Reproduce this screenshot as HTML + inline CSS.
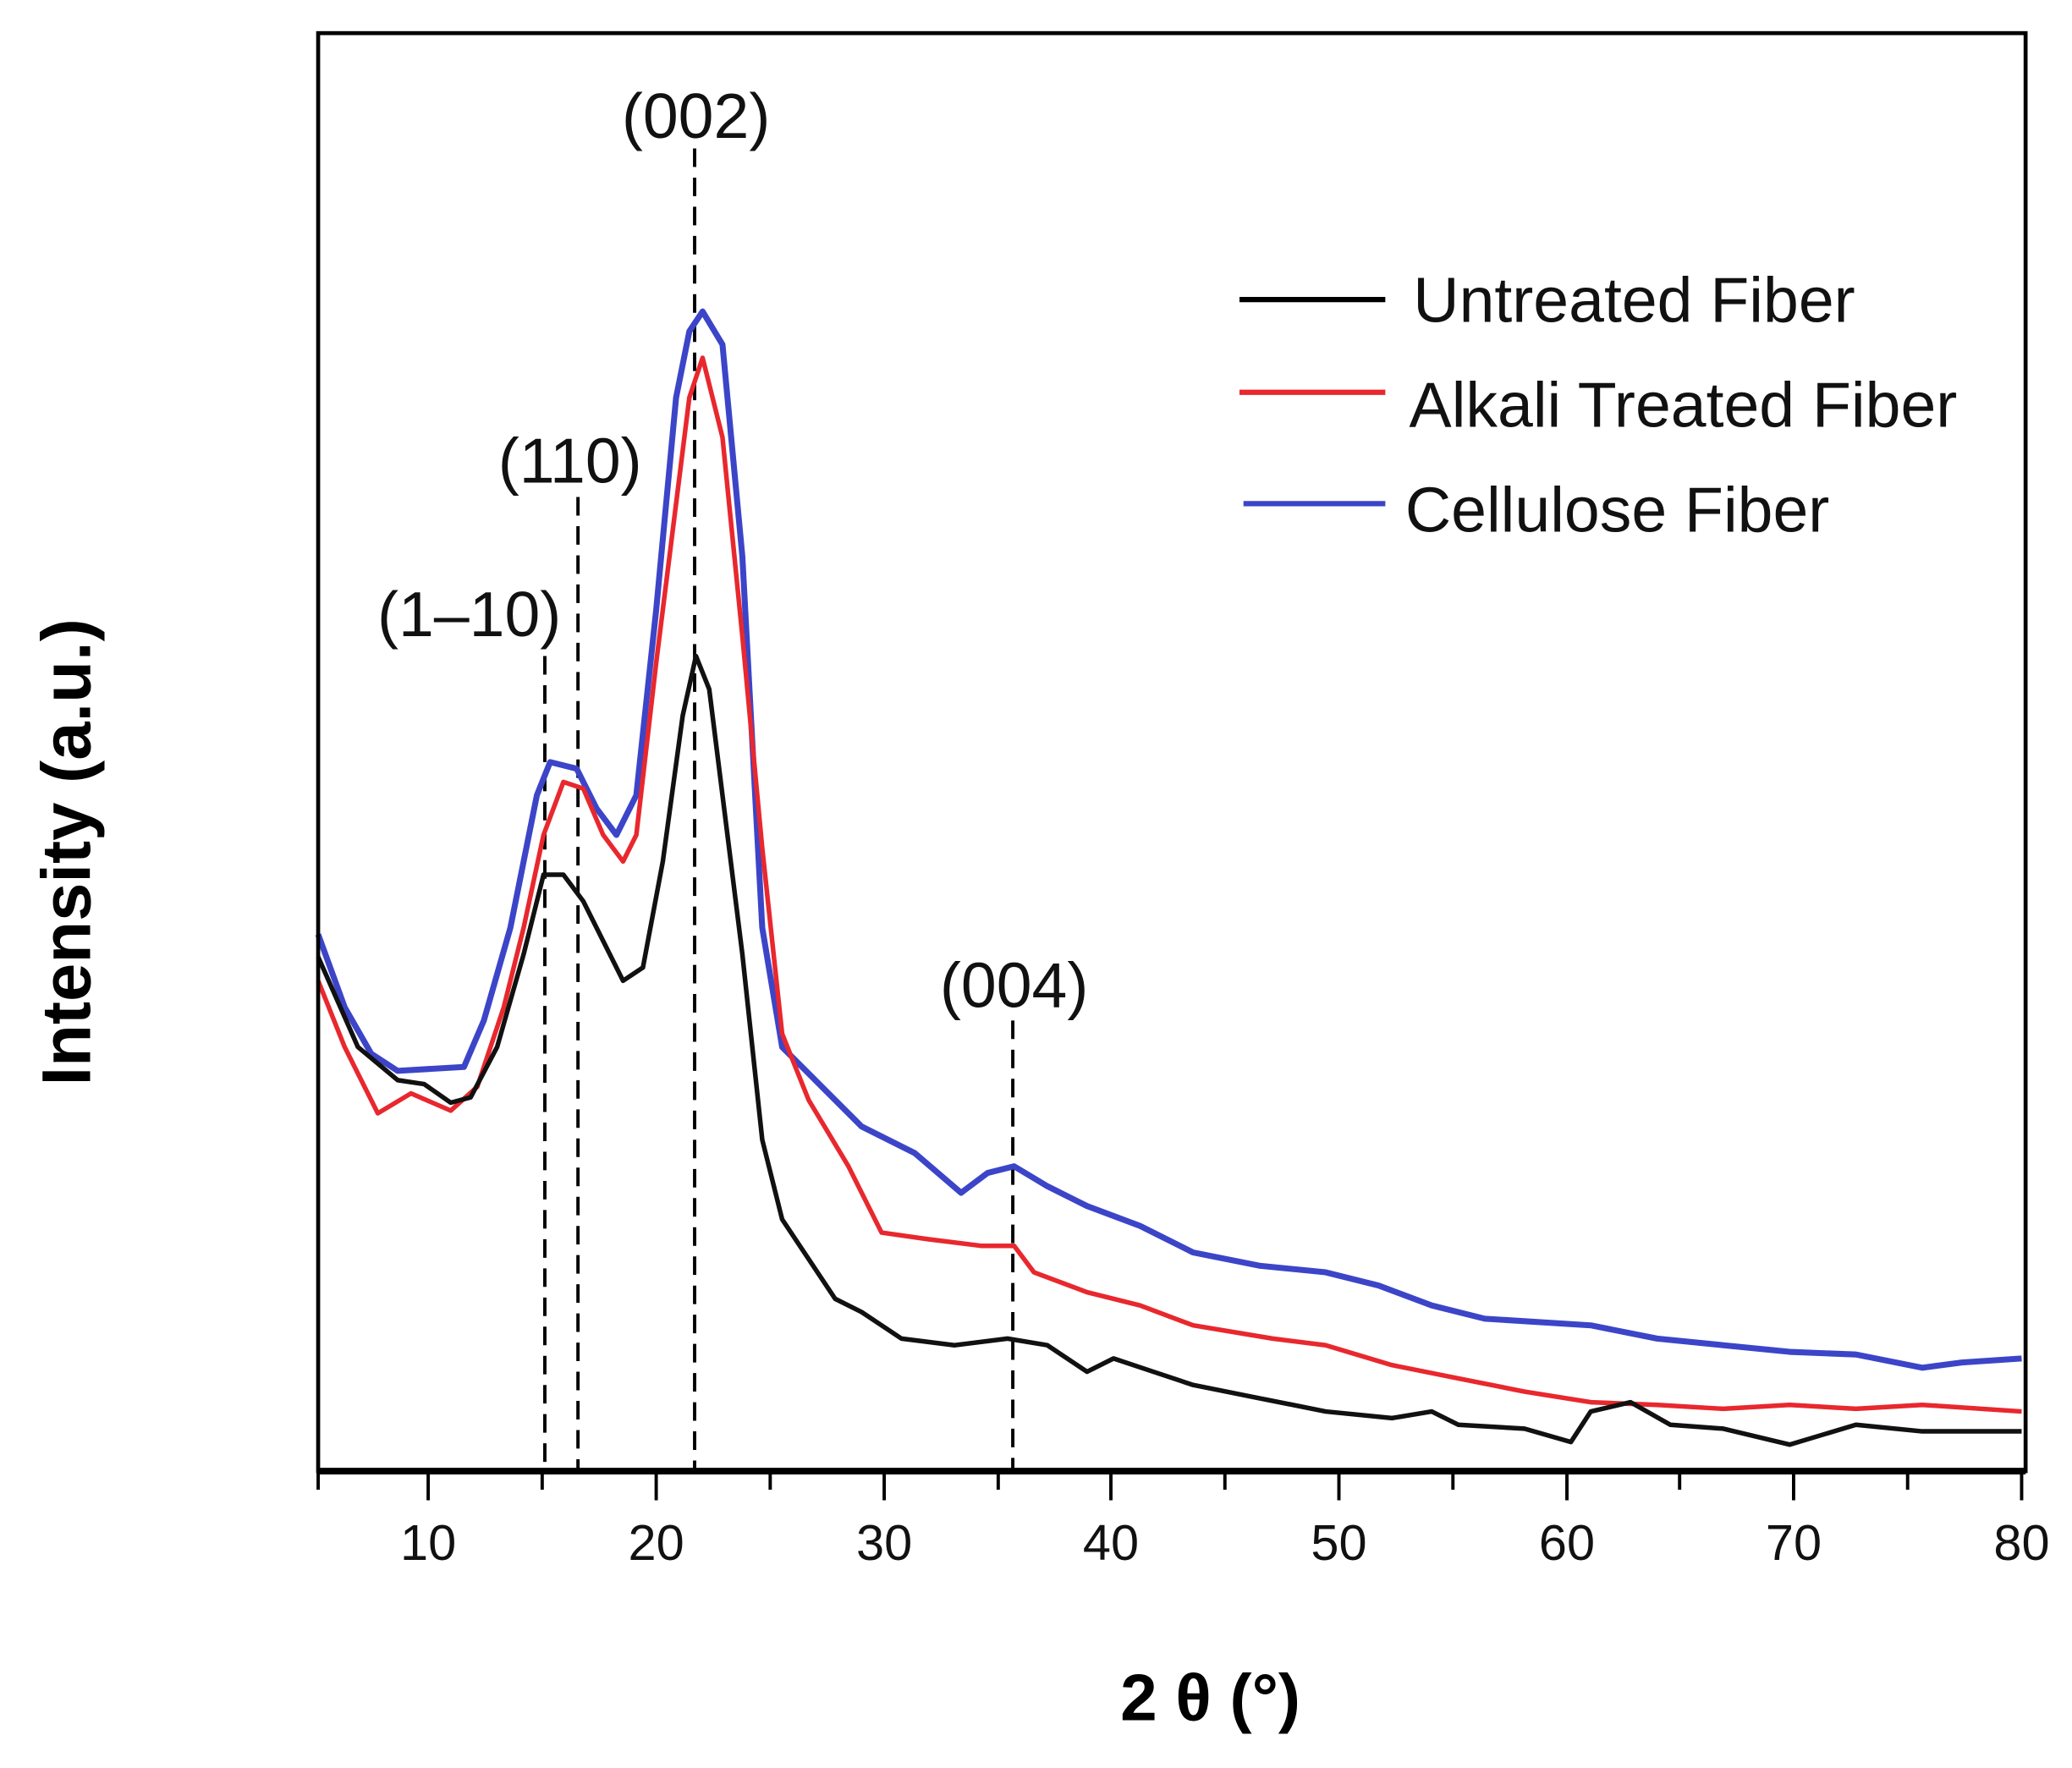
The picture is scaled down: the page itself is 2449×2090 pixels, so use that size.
<!DOCTYPE html>
<html><head><meta charset="utf-8"><style>
html,body{margin:0;padding:0;background:#fff;}
svg{display:block;}
text{font-family:"Liberation Sans",sans-serif;}
</style></head><body>
<svg width="2449" height="2090" viewBox="0 0 1563 1334" preserveAspectRatio="none">
<rect width="1563" height="1334" fill="#fff"/>
<g stroke="#000" stroke-width="2.5" stroke-dasharray="14,8" fill="none">
<line x1="411" y1="495" x2="411" y2="1110"/>
<line x1="436" y1="375" x2="436" y2="1110"/>
<line x1="524" y1="112" x2="524" y2="1110"/>
<line x1="764" y1="770" x2="764" y2="1110"/>
</g>
<polyline fill="none" stroke="#3c45c8" stroke-width="4.5" stroke-linejoin="round" points="240,705 260,760 280,795 300,808 350,805 365,770 385,700 405,600 415,575 435,580 450,610 465,630 480,600 495,460 510,300 520,250 530,235 545,260 560,420 575,700 590,790 620,820 650,850 690,870 725,900 745,885 765,880 790,895 820,910 860,925 900,945 950,955 1000,960 1040,970 1080,985 1120,995 1200,1000 1250,1010 1300,1015 1350,1020 1400,1022 1450,1032 1480,1028 1525,1025"/>
<polyline fill="none" stroke="#e8282e" stroke-width="3.5" stroke-linejoin="round" points="240,740 260,790 285,840 310,825 340,838 360,820 380,760 395,700 410,630 425,590 440,595 455,630 470,650 480,630 495,500 510,380 520,300 530,270 545,330 560,480 575,640 590,780 610,830 640,880 665,930 700,935 740,940 765,940 780,960 820,975 860,985 900,1000 960,1010 1000,1015 1050,1030 1100,1040 1150,1050 1200,1058 1250,1060 1300,1063 1350,1060 1400,1063 1450,1060 1525,1065"/>
<polyline fill="none" stroke="#111" stroke-width="3.5" stroke-linejoin="round" points="240,722 270,790 300,815 320,818 340,832 355,828 375,790 395,720 410,660 425,660 440,680 455,710 470,740 485,730 500,650 515,540 525,495 535,520 545,600 560,720 575,860 590,920 610,950 630,980 650,990 680,1010 720,1015 760,1010 790,1015 820,1035 840,1025 870,1035 900,1045 950,1055 1000,1065 1050,1070 1080,1065 1100,1075 1150,1078 1185,1088 1200,1065 1230,1058 1260,1075 1300,1078 1350,1090 1400,1075 1450,1080 1525,1080"/>
<rect x="240" y="25" width="1288" height="1085" fill="none" stroke="#000" stroke-width="3"/>
<line x1="240" y1="1110" x2="1528" y2="1110" stroke="#000" stroke-width="5"/>
<g stroke="#000" stroke-width="2.5">
<line x1="323" y1="1110" x2="323" y2="1132"/><line x1="495" y1="1110" x2="495" y2="1132"/><line x1="667" y1="1110" x2="667" y2="1132"/><line x1="838" y1="1110" x2="838" y2="1132"/><line x1="1010" y1="1110" x2="1010" y2="1132"/><line x1="1182" y1="1110" x2="1182" y2="1132"/><line x1="1353" y1="1110" x2="1353" y2="1132"/><line x1="1525" y1="1110" x2="1525" y2="1132"/>
<line x1="240" y1="1110" x2="240" y2="1124"/><line x1="409" y1="1110" x2="409" y2="1124"/><line x1="581" y1="1110" x2="581" y2="1124"/><line x1="753" y1="1110" x2="753" y2="1124"/><line x1="924" y1="1110" x2="924" y2="1124"/><line x1="1096" y1="1110" x2="1096" y2="1124"/><line x1="1267" y1="1110" x2="1267" y2="1124"/><line x1="1439" y1="1110" x2="1439" y2="1124"/>
</g>
<g font-size="38" text-anchor="middle" fill="#111">
<text x="323" y="1177">10</text><text x="495" y="1177">20</text><text x="667" y="1177">30</text><text x="838" y="1177">40</text><text x="1010" y="1177">50</text><text x="1182" y="1177">60</text><text x="1353" y="1177">70</text><text x="1525" y="1177">80</text>
</g>
<text x="913" y="1298" font-size="50" font-weight="bold" text-anchor="middle">2 θ (°)</text>
<text transform="translate(68,643) rotate(-90)" font-size="52" font-weight="bold" text-anchor="middle">Intensity (a.u.)</text>
<g font-size="48" text-anchor="middle" fill="#111">
<text x="354" y="480">(1–10)</text>
<text x="430" y="364">(110)</text>
<text x="525" y="104">(002)</text>
<text x="765" y="760">(004)</text>
</g>
<line x1="935" y1="226" x2="1045" y2="226" stroke="#000" stroke-width="4"/>
<line x1="935" y1="296" x2="1045" y2="296" stroke="#e8282e" stroke-width="4"/>
<line x1="938" y1="380" x2="1045" y2="380" stroke="#3c45c8" stroke-width="4"/>
<g font-size="48" fill="#111">
<text x="1066" y="243">Untreated Fiber</text>
<text x="1063" y="322">Alkali Treated Fiber</text>
<text x="1060" y="401">Cellulose Fiber</text>
</g>
</svg>
</body></html>
